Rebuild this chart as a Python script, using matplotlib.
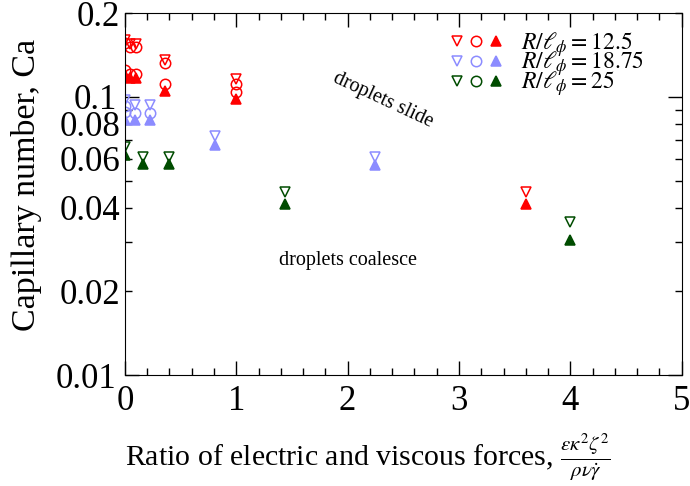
import numpy as np
import matplotlib
matplotlib.use('Agg')
from matplotlib import pyplot as plt
from matplotlib.ticker import FixedLocator, FixedFormatter, MultipleLocator
from matplotlib.legend_handler import HandlerTuple
from matplotlib.lines import Line2D

plt.rc('font', family='Liberation Serif')
plt.rc('mathtext', fontset='stix')

# R/l_phi = 12.5 (red)
red_x_tri = [0, 0.05, 0.1, 0.36, 1.0, 3.6]
red_y_tri = [0.160, 0.155, 0.155, 0.136, 0.116, 0.0455]
red_x_circ = [0, 0.05, 0.1, 0, 0.05, 0.1, 0.36, 0.36, 1.0, 1.0]
red_y_circ = [0.156, 0.151, 0.151, 0.125, 0.121, 0.121, 0.132, 0.111, 0.111, 0.104]
red_x_fill = [0, 0.05, 0.1, 0.36, 1.0, 3.6]
red_y_fill = [0.120, 0.117, 0.117, 0.105, 0.098, 0.0413]

# R/l_phi = 18.75 (blue)
blue_x_tri = [0, 0.09, 0.225, 0.81, 2.25]
blue_y_tri = [0.0975, 0.0936, 0.0936, 0.0722, 0.0608]
blue_x_circ = [0, 0, 0.09, 0.225]
blue_y_circ = [0.093, 0.088, 0.0874, 0.0874]
blue_x_fill = [0, 0.09, 0.225, 0.81, 2.25]
blue_y_fill = [0.0827, 0.0827, 0.0827, 0.067, 0.0568]

# R/l_phi = 25 (green)
green_x_tri = [0, 0.16, 0.4, 1.44, 4.0]
green_y_tri = [0.066, 0.0608, 0.0608, 0.0455, 0.0355]
green_x_fill = [0, 0.16, 0.4, 1.44, 4.0]
green_y_fill = [0.0617, 0.0572, 0.0572, 0.0412, 0.0307]

labels = [r'$R/\ell_\phi = 12.5$', r'$R/\ell_\phi = 18.75$', r'$R/\ell_\phi = 25$']
cols = ['#ff0000', '#8c8cff', '#004c00']

y_major = [0.01, 0.1]
y_minor = [0.02, 0.03, 0.04, 0.05, 0.06, 0.07, 0.08, 0.09, 0.2]
y_minor_lab = ['0.02', '', '0.04', '', '0.06', '', '0.08', '', '0.2']

fig = plt.figure(figsize=(6.9, 4.86), dpi=100)
ax = fig.add_axes([0.181, 0.228, 0.807, 0.745])

ms = 6.5
mew = 1.1


def series(xt, yt, xc, yc, xf, yf, col):
    ax.plot(xt, yt, 'v', ms=ms, mfc='none', mec=col, mew=mew, ls='none')
    if xc:
        ax.plot(xc, yc, 'o', ms=ms + 1, mfc='none', mec=col, mew=mew, ls='none')
    ax.plot(xf, yf, '^', ms=ms, mfc=col, mec=col, mew=mew, ls='none')


series(red_x_tri, red_y_tri, red_x_circ, red_y_circ, red_x_fill, red_y_fill, cols[0])
series(blue_x_tri, blue_y_tri, blue_x_circ, blue_y_circ, blue_x_fill, blue_y_fill, cols[1])
series(green_x_tri, green_y_tri, [], [], green_x_fill, green_y_fill, cols[2])

ax.set_xlim(0, 5)
ax.set_yscale('log')
ax.set_ylim(0.01, 0.2)

ax.xaxis.set_major_locator(MultipleLocator(1))
ax.xaxis.set_minor_locator(MultipleLocator(0.2))
ax.yaxis.set_major_locator(FixedLocator(y_major))
ax.yaxis.set_major_formatter(FixedFormatter(['0.01', '0.1']))
ax.yaxis.set_minor_locator(FixedLocator(y_minor))
ax.yaxis.set_minor_formatter(FixedFormatter(y_minor_lab))
ax.tick_params(which='both', direction='in', top=True, right=True, labelsize=25)
ax.tick_params(which='major', length=10, width=1)
ax.tick_params(which='minor', length=5, width=1)
ax.tick_params(axis='x', pad=7)
ax.tick_params(axis='y', pad=6)

ax.set_xlabel(r'Ratio of electric and viscous forces, $\frac{\varepsilon\kappa^2\zeta^2}{\rho\nu\dot{\gamma}}$',
              fontsize=21.5)
ax.xaxis.set_label_coords(0.437, -0.155)
ax.set_ylabel('Capillary number, Ca', fontsize=24.5)
ax.yaxis.set_label_coords(-0.148, 0.525)

ax.text(2.32, 0.0973, 'droplets slide', fontsize=14.5, rotation=-25, ha='center', va='center')
ax.text(2.0, 0.0259, 'droplets coalesce', fontsize=14.5, ha='center', va='center')

handles = []
for c in cols:
    handles.append((Line2D([], [], marker='v', ms=ms, mfc='none', mec=c, mew=mew, ls='none'),
                    Line2D([], [], marker='o', ms=ms + 1, mfc='none', mec=c, mew=mew, ls='none'),
                    Line2D([], [], marker='^', ms=ms, mfc=c, mec=c, mew=mew, ls='none')))
ax.legend(handles, labels, handler_map={tuple: HandlerTuple(ndivide=None, pad=0.15)},
          loc='upper right', frameon=False, fontsize=17, handlelength=2.3,
          handletextpad=0.75, labelspacing=-0.38, borderaxespad=0.0,
          bbox_to_anchor=(0.95, 0.98))

fig.savefig('out.png', dpi=100)
